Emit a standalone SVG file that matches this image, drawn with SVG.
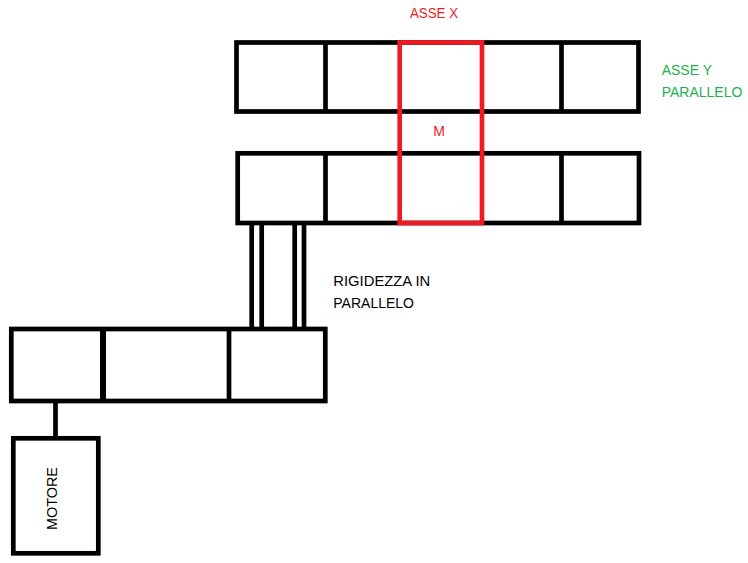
<svg xmlns="http://www.w3.org/2000/svg" width="748" height="563" viewBox="0 0 748 563">
<style>
.b{fill:none;stroke:#000;stroke-width:4.7}
.r{fill:none;stroke:#ED1C24;stroke-width:4.7}
.t{font-family:"Liberation Sans",Arial,sans-serif;font-size:14px}
</style>
<rect width="748" height="563" fill="#fff"/>
<g id="upper-beam">
<rect class="b" x="236.5" y="42.5" width="402" height="69"/>
<line class="b" x1="325.5" y1="42.5" x2="325.5" y2="111.5"/>
<line class="b" x1="561.5" y1="42.5" x2="561.5" y2="111.5"/>
</g>
<g id="lower-beam">
<rect class="b" x="237.7" y="153.3" width="401.3" height="69.7"/>
<line class="b" x1="325.5" y1="153.3" x2="325.5" y2="223"/>
<line class="b" x1="561.5" y1="153.3" x2="561.5" y2="223"/>
</g>
<g id="mass">
<rect class="r" x="399.7" y="42.5" width="82.3" height="180.5"/>
<text class="t" x="439" y="136" fill="#ED1C24" text-anchor="middle">M</text>
</g>
<g id="base-beam">
<rect class="b" x="11.3" y="329" width="314" height="72"/>
<line stroke="#000" stroke-width="6" x1="103" y1="329" x2="103" y2="401"/>
<line class="b" x1="229" y1="329" x2="229" y2="401"/>
</g>
<g id="motor">
<rect class="b" x="13.3" y="438.3" width="85" height="115"/>
<text class="t" transform="translate(56.7,498.5) rotate(-90)" text-anchor="middle" textLength="63" lengthAdjust="spacingAndGlyphs">MOTORE</text>
</g>
<g id="connectors">
<line class="b" x1="251.7" y1="223" x2="251.7" y2="329"/>
<line class="b" x1="261.7" y1="223" x2="261.7" y2="329"/>
<line class="b" x1="294.7" y1="223" x2="294.7" y2="329"/>
<line class="b" x1="304" y1="223" x2="304" y2="329"/>
<line class="b" x1="55.5" y1="401" x2="55.5" y2="438.3"/>
</g>
<g id="labels">
<text class="t" x="410" y="18.3" fill="#ED1C24" textLength="48" lengthAdjust="spacingAndGlyphs">ASSE X</text>
<text class="t" x="661.7" y="75" fill="#22B14C">ASSE Y</text>
<text class="t" x="661.7" y="97.3" fill="#22B14C">PARALLELO</text>
<text class="t" x="333.3" y="286" textLength="97" lengthAdjust="spacingAndGlyphs">RIGIDEZZA IN</text>
<text class="t" x="333.3" y="308.3">PARALLELO</text>
</g>
</svg>
